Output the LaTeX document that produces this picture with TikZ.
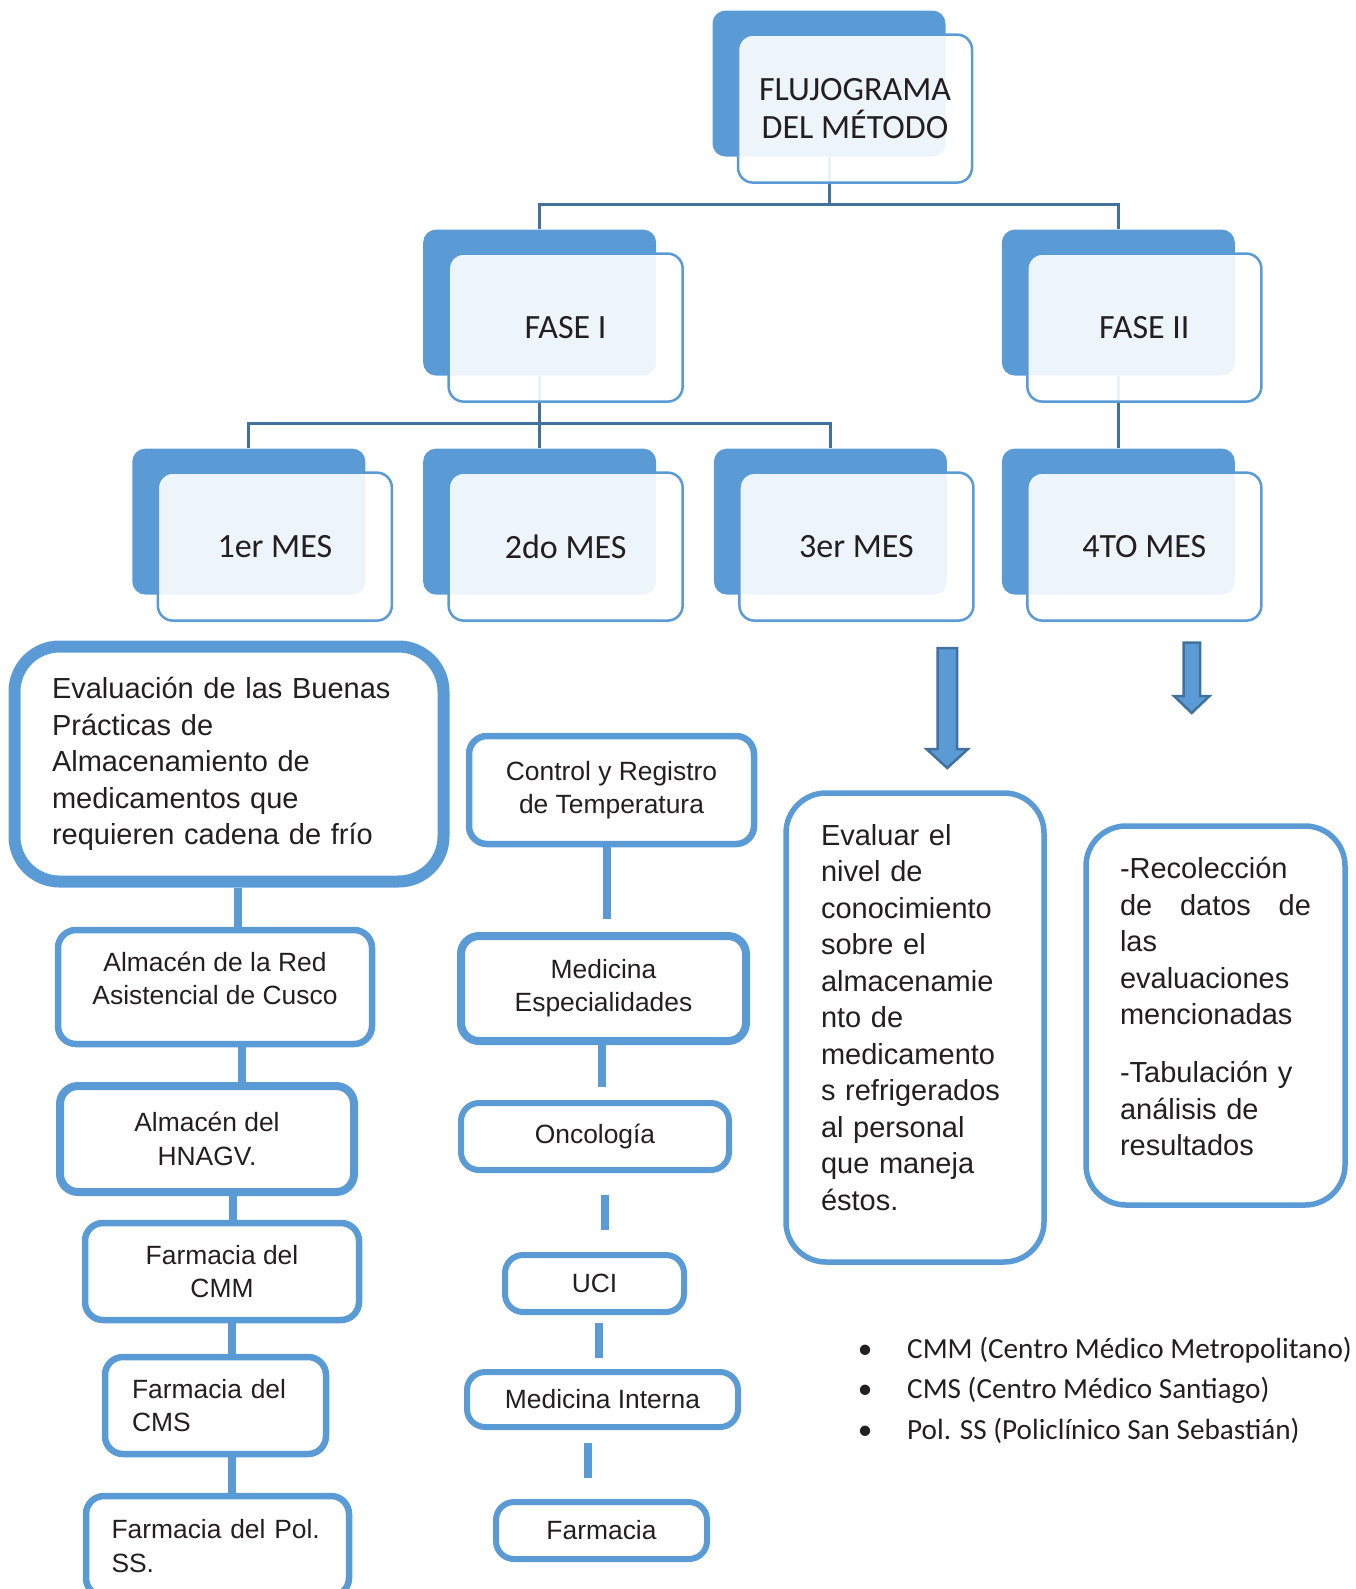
\documentclass[tikz,border=0pt]{standalone}
\usepackage{fontspec}
\setmainfont{Liberation Sans}
\newfontfamily\calibri{Carlito}
\definecolor{mainblue}{HTML}{5B9BD5}
\definecolor{darkblue}{HTML}{41719C}
\definecolor{textdark}{HTML}{231F20}
\newcommand\capfont{\calibri\fontsize{34}{38.5}\selectfont}
\newcommand\grandefont{\fontsize{29}{36.5}\selectfont}
\newcommand\cajafont{\fontsize{26.4}{33.3}\selectfont}
\newcommand\notafont{\calibri\fontsize{29.2}{40.5}\selectfont}
\newcommand\estira{\hspace{0pt plus 1filll}}

\begin{document}
\begin{tikzpicture}[x=1pt,y=-1pt,
	level distance=219,
	level 1/.style={sibling distance=578.7},
	level 2/.style={sibling distance=290.8},
	edge from parent/.style={draw=darkblue,line width=3},
	edge from parent path={(\tikzparentnode.south) -- ++(0,48) -| (\tikzchildnode.north)},
	backbox/.style={fill=mainblue,rounded corners=13,minimum width=233,minimum height=146,inner sep=0},
	frontbox/.style={draw=mainblue,line width=2.5,fill=white,fill opacity=0.9,text opacity=1,rounded corners=15,minimum width=234,minimum height=148,inner sep=0,align=center,font=\capfont,text=textdark},
	stepbox/.style={draw=mainblue,line width=6.5,rounded corners=18,fill=white,inner sep=0,align=center,font=\cajafont,text=textdark},
	bigbox/.style={stepbox,rounded corners=40,line width=5.5,font=\grandefont,align=left},
	link/.style={draw=mainblue,line width=8},
	blockarrow/.style={fill=mainblue,draw=darkblue,line width=2.5},
	note/.style={font=\notafont,text=textdark,inner sep=0,anchor=base west}]
	\useasboundingbox (0,0) rectangle (1356,1589);
	\clip (0,0) rectangle (1356,1589);
	% arbol de fases y meses
	\node[backbox] (tb) at (829,83.6) {}
		child {node[backbox] (f1b) {}
			child {node[backbox] (m1b) {}}
			child {node[backbox] (m2b) {}}
			child {node[backbox] (m3b) {}}
		}
		child {node[backbox] (f2b) {}
			child {node[backbox] (m4b) {}}
		};
	\node[frontbox] (t) at ([shift={(26,25)}]tb.center) {FLUJOGRAMA\\DEL MÉTODO};
	\node[frontbox] (f1) at ([shift={(26,25)}]f1b.center) {FASE I};
	\node[frontbox] (f2) at ([shift={(26,25)}]f2b.center) {FASE II};
	\node[frontbox] (m1) at ([shift={(26,25)}]m1b.center) {1er MES};
	\node[frontbox] (m2) at ([shift={(26,25)}]m2b.center) {2do MES};
	\node[frontbox] (m3) at ([shift={(26,25)}]m3b.center) {3er MES};
	\node[frontbox] (m4) at ([shift={(26,25)}]m4b.center) {4TO MES};
	% flechas
	\draw[blockarrow] (937.5,648) -- (957,648) -- (957,749) -- (968,749) -- (947.2,768) -- (926.5,749) -- (937.5,749) -- cycle;
	\draw[blockarrow] (1183.5,642.5) -- (1200,642.5) -- (1200,696) -- (1209.5,696) -- (1191.7,713) -- (1174,696) -- (1183.5,696) -- cycle;
	% columna izquierda
	\node[bigbox,line width=12,rounded corners=45,minimum width=429,minimum height=235,text width=354] (eval) at (229,764) {Evaluación de las Buenas\\Prácticas de\\Almacenamiento de\\medicamentos que\\requieren cadena de frío};
	\node[stepbox,minimum width=314,minimum height=114,text depth=18pt] (red) at (215,987) {Almacén de la Red\\Asistencial de Cusco};
	\node[stepbox,line width=8,minimum width=294,minimum height=106] (hnagv) at (207,1139) {Almacén del\\HNAGV.};
	\node[stepbox,minimum width=274,minimum height=97] (cmm) at (222,1271.5) {Farmacia del\\CMM};
	\node[stepbox,minimum width=221,minimum height=97,text width=167,align=left] (cms) at (215.5,1405.5) {Farmacia del\\CMS};
	\node[stepbox,minimum width=263,minimum height=100,text width=212,align=left] (polss) at (217.5,1546) {Farmacia del Pol.\\SS.};
	% columna central
	\node[stepbox,minimum width=285,minimum height=108] (ctrl) at (611.5,790) {Control y Registro\\de Temperatura};
	\node[stepbox,line width=8,minimum width=285,minimum height=105] (medesp) at (603.5,988.5) {Medicina\\Especialidades};
	\node[stepbox,line width=6,minimum width=268,minimum height=67] (onco) at (595,1136.5) {Oncología};
	\node[stepbox,line width=6,minimum width=179,minimum height=57] (uci) at (594.5,1283.5) {UCI};
	\node[stepbox,line width=6,minimum width=271,minimum height=55] (medint) at (602.5,1399.5) {Medicina Interna};
	\node[stepbox,line width=6,minimum width=211,minimum height=57] (farm) at (601.5,1530.5) {Farmacia};
	% columna derecha
	\node[bigbox,minimum width=258,minimum height=469,text width=188] (evalr) at (915,1027.5) {Evaluar el\\nivel de\\conocimiento\\sobre el\\almacenamie\\nto de\\medicamento\\s refrigerados\\al personal\\que maneja\\éstos.\vspace{20pt}};
	\node[bigbox,minimum width=259,minimum height=379,text width=191] (recol) at (1215.5,1015.5) {-Recolección\\de\estira datos\estira de\\las\\evaluaciones\\mencionadas\\[21.5pt]-Tabulación y\\análisis de\\resultados\vspace{18pt}};
	\draw[link] (eval.south -| 238,0) -- (red.north -| 238,0);
	\draw[link] (red.south -| 242,0) -- (hnagv.north -| 242,0);
	\draw[link] (hnagv.south -| 233,0) -- (cmm.north -| 233,0);
	\draw[link] (cmm.south -| 232,0) -- (cms.north -| 232,0);
	\draw[link] (cms.south -| 232,0) -- (polss.north -| 232,0);
	\draw[link,shorten >=13] (ctrl.south -| 607,0) -- (medesp.north -| 607,0);
	\draw[link,shorten >=13] (medesp.south -| 602,0) -- (onco.north -| 602,0);
	\draw[link,shorten <=22,shorten >=22] (onco.south -| 605,0) -- (uci.north -| 605,0);
	\draw[link,shorten <=8,shorten >=11] (uci.south -| 599,0) -- (medint.north -| 599,0);
	\draw[link,shorten <=13,shorten >=21] (medint.south -| 588,0) -- (farm.north -| 588,0);
	% siglas
	\node[note] (n1) at (844,1358) {\makebox[42pt]{•}\hspace{21pt}CMM (Centro Médico Metropolitano)};
	\node[note] (n2) at (844,1398.5) {\makebox[42pt]{•}\hspace{21pt}CMS (Centro Médico Santiago)};
	\node[note] (n3) at (844,1439) {\makebox[42pt]{•}\hspace{21pt}Pol. SS (Policlínico San Sebastián)};
\end{tikzpicture}
\end{document}
